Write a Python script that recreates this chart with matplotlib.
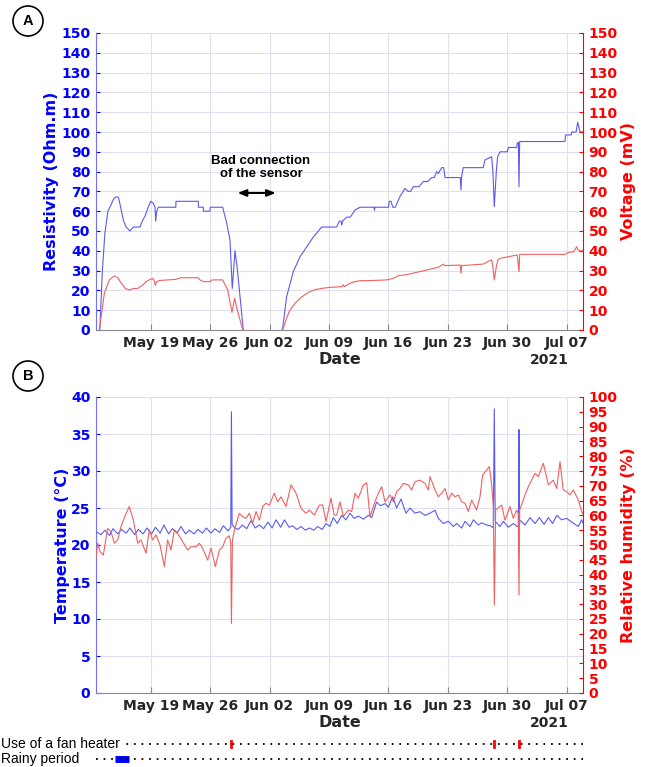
import datetime
import numpy as np
import matplotlib
matplotlib.use("Agg")
import matplotlib.pyplot as plt
import matplotlib.dates as mdates
from matplotlib.patches import Ellipse

# ---------------- data (days since 2021-05-12 00:00) ----------------
START = datetime.datetime(2021, 5, 12)

resistivity = [(1.0, 0), (1.3, 30), (1.6, 49), (1.95, 60), (2.3, 63), (2.6, 66), (2.9, 67.3), (3.2, 67),
               (3.5, 61), (3.8, 55), (4.1, 52), (4.55, 50), (4.94, 52), (5.73, 52), (6.0, 55), (6.32, 57.5),
               (6.7, 62), (7.0, 65), (7.3, 64), (7.5, 62), (7.58, 55), (7.7, 60), (7.9, 62), (9.95, 62),
               (9.97, 65), (12.6, 65), (12.62, 62), (13.19, 62), (13.21, 60), (13.98, 60), (14.0, 62),
               (15.47, 62), (15.94, 54), (16.33, 45.5), (16.6, 21), (16.92, 40), (17.19, 31), (17.9, 0),
               (20.0, np.nan),
               (22.45, 0), (22.54, 1), (23.0, 16.8), (23.79, 29.5), (24.58, 37), (25.37, 42), (26.15, 47),
               (27.13, 52), (28.9, 52), (29.2, 55), (29.4, 55), (29.5, 53), (29.6, 55), (30.08, 57), (30.5, 57),
               (31.06, 60.6), (31.65, 62), (33.3, 62), (33.35, 60.5), (33.4, 62), (34.98, 62), (35.1, 65),
               (35.3, 65), (35.5, 62), (35.8, 62), (36.3, 67), (36.94, 71.5), (37.3, 70), (37.6, 70),
               (37.92, 72.4), (38.6, 72.4), (39.1, 75), (39.6, 75), (40.1, 77), (40.4, 77), (40.67, 80),
               (40.9, 79), (41.0, 80), (41.27, 82), (41.5, 82), (41.66, 77), (43.45, 77), (43.54, 70.7),
               (43.6, 77), (43.8, 82), (46.16, 82), (46.37, 85.9), (47.15, 87.5), (47.3, 80), (47.46, 62.3),
               (47.7, 80), (47.85, 87.5), (48.14, 90), (49.0, 90), (49.12, 92.2), (50.1, 92.2), (50.17, 94.6),
               (50.3, 94.6), (50.37, 72.4), (50.45, 95.2), (55.79, 95.2), (55.85, 98.5), (56.5, 98.5),
               (56.6, 100), (57.1, 100), (57.28, 104.9), (57.56, 100), (57.9, 100)]

voltage = [(0.94, 0), (1.53, 18.5), (2.12, 25.3), (2.7, 27.3), (3.1, 26.5), (3.49, 23.9), (4.0, 21),
           (4.47, 20.2), (5.0, 21), (5.46, 21), (6.0, 22.5), (6.44, 24.4), (6.9, 25.5), (7.23, 26.1),
           (7.4, 25), (7.54, 22.6), (7.7, 24.4), (8.0, 25), (10.0, 25.6), (10.5, 26.4), (12.6, 26.4),
           (12.8, 25.3), (13.2, 24.4), (14.0, 24.4), (14.2, 25.3), (15.47, 25.3), (16.06, 20.2),
           (16.57, 8.9), (16.88, 16), (17.2, 10), (17.83, 0),
           (20.0, np.nan),
           (22.54, 0), (23.0, 6), (23.4, 10.1), (24.0, 13.5), (24.58, 16), (25.2, 18), (25.76, 19.4),
           (26.5, 20.5), (27.13, 21), (28.0, 21.5), (29.5, 21.9), (29.7, 22.8), (29.8, 21.9), (30.47, 23.6),
           (31.0, 24.4), (31.65, 24.9), (33.0, 25.0), (34.79, 25.3), (35.5, 26), (36.2, 27.5), (36.94, 27.8),
           (37.8, 28.6), (38.71, 29.5), (39.5, 30.3), (40.28, 31.1), (40.9, 31.7), (41.46, 33.3), (41.6, 32.5),
           (43.45, 32.8), (43.54, 28.6), (43.62, 32.5), (46.16, 33.3), (46.8, 34.8), (47.15, 35.4), (47.3, 32),
           (47.46, 25.3), (47.7, 32), (47.9, 35.5), (48.14, 36.2), (49.12, 37), (50.17, 37.9), (50.37, 29.5),
           (50.45, 38.2), (55.79, 38.2), (56.2, 39.2), (56.8, 39.5), (57.17, 42.1), (57.3, 40.5),
           (57.56, 40), (57.9, 40)]

temperature = [(0.55, 21.9), (0.8, 21.6), (1.15, 21.4), (1.6, 22.0), (2.15, 21.3), (2.55, 22.2), (3.1, 21.5),
               (3.55, 22.1), (4.1, 21.6), (4.55, 22.3), (5.1, 21.4), (5.55, 22.1), (6.1, 21.5), (6.55, 22.3),
               (7.1, 21.5), (7.55, 22.4), (8.1, 21.6), (8.55, 22.7), (9.1, 21.5), (9.55, 22.2), (10.1, 21.6),
               (10.55, 22.5), (11.1, 21.5), (11.55, 22.0), (12.1, 21.5), (12.55, 22.1), (13.1, 21.6),
               (13.55, 22.3), (14.1, 21.6), (14.55, 22.2), (15.1, 21.7), (15.55, 22.6), (16.1, 21.9),
               (16.42, 22.4), (16.5, 38.0), (16.58, 22.8), (16.9, 22.3), (17.3, 22.1), (17.8, 22.7),
               (18.3, 22.2), (18.8, 23.3), (19.3, 22.3), (19.8, 22.7), (20.3, 22.2), (20.8, 23.1), (21.3, 22.3),
               (21.75, 23.4), (22.3, 22.4), (22.75, 23.4), (23.3, 22.4), (23.7, 22.6), (24.2, 22.1), (24.7, 22.5),
               (25.2, 22.0), (25.7, 22.3), (26.2, 22.0), (26.65, 22.5), (27.2, 22.1), (27.65, 22.9), (28.1, 22.5),
               (28.5, 23.7), (28.97, 22.9), (29.48, 24.0), (29.99, 23.4), (30.47, 24.3), (30.94, 23.6),
               (31.45, 23.9), (32.04, 23.5), (32.63, 24.0), (33.02, 23.7), (33.6, 25.8), (34.08, 25.3),
               (34.59, 25.6), (34.98, 25.1), (35.49, 26.5), (35.96, 25.0), (36.47, 26.2), (37.06, 24.3),
               (37.53, 25.0), (38.12, 24.3), (38.71, 24.5), (39.3, 24.0), (39.89, 24.3), (40.48, 24.7),
               (40.87, 23.6), (41.46, 22.9), (42.05, 23.2), (42.64, 22.5), (43.03, 22.9), (43.62, 22.3),
               (44.01, 23.2), (44.6, 22.5), (45.0, 23.4), (45.58, 22.7), (45.97, 23.0), (46.56, 22.7),
               (47.0, 22.6), (47.35, 22.3), (47.46, 38.4), (47.57, 23.2), (48.13, 22.5), (48.53, 23.2),
               (49.11, 22.4), (49.7, 22.9), (50.17, 22.5), (50.32, 22.6), (50.37, 35.6), (50.43, 23.4),
               (51.08, 22.7), (51.67, 23.7), (52.26, 22.9), (52.77, 23.7), (53.32, 22.8), (53.83, 23.7),
               (54.34, 22.9), (54.81, 24.0), (55.4, 23.4), (55.99, 23.6), (56.57, 23.1), (57.36, 22.5),
               (57.75, 23.4), (57.9, 23.0)]

humidity = [(0.55, 45.5), (0.75, 50.6), (1.02, 47.8), (1.41, 46.6), (1.92, 55.6), (2.32, 54.5), (2.71, 50.6),
            (3.1, 51.7), (3.49, 56.2), (4.0, 60.1), (4.48, 63.0), (4.95, 58.4), (5.46, 50.6), (5.85, 51.7),
            (6.44, 47.2), (6.83, 55.1), (7.22, 51.7), (7.62, 53.4), (8.09, 50.0), (8.6, 42.7), (8.99, 51.7),
            (9.38, 48.3), (9.78, 55.1), (10.17, 54.0), (10.76, 51.1), (11.35, 48.3), (11.74, 49.4),
            (12.33, 49.4), (12.72, 50.6), (13.11, 48.9), (13.7, 44.9), (14.1, 48.9), (14.61, 42.7),
            (15.08, 48.3), (15.47, 49.4), (15.86, 52.3), (16.25, 53.1), (16.42, 50.6), (16.5, 23.5),
            (16.62, 51.7), (16.96, 56.2), (17.43, 60.7), (17.82, 59.6), (18.22, 59.0), (18.61, 60.7),
            (19.0, 57.3), (19.4, 61.3), (19.79, 58.4), (20.18, 63.0), (20.57, 64.1), (20.97, 63.5),
            (21.55, 67.5), (21.95, 64.6), (22.34, 66.3), (22.93, 63.0), (23.52, 70.3), (24.11, 67.5),
            (24.7, 62.4), (25.28, 60.7), (25.68, 61.8), (26.27, 60.1), (26.86, 63.5), (27.25, 63.5),
            (27.64, 57.9), (28.23, 65.8), (28.6, 60.1), (28.9, 60.1), (29.29, 64.6), (29.68, 59.6),
            (30.27, 61.8), (30.66, 61.3), (31.05, 67.5), (31.45, 65.8), (32.04, 70.3), (32.43, 71.0),
            (32.82, 59.6), (33.41, 64.6), (33.8, 67.5), (34.2, 69.7), (34.59, 64.6), (35.18, 66.9),
            (35.57, 64.6), (35.96, 68.0), (36.35, 69.1), (36.75, 70.8), (37.34, 70.3), (37.73, 68.6),
            (38.12, 71.4), (38.71, 71.9), (39.3, 70.8), (39.69, 68.6), (39.89, 73.1), (40.48, 68.6),
            (40.87, 66.3), (41.26, 67.5), (41.66, 69.1), (42.05, 65.2), (42.44, 67.5), (42.83, 66.3),
            (43.23, 66.9), (43.62, 64.6), (44.01, 64.1), (44.4, 61.3), (44.8, 65.2), (45.38, 61.8),
            (45.78, 66.3), (46.09, 73.6), (46.56, 75.3), (46.88, 76.5), (47.15, 70.3), (47.35, 63.0),
            (47.47, 29.7), (47.62, 61.8), (48.33, 63.5), (48.72, 58.4), (49.31, 63.0), (49.7, 59.0),
            (50.1, 61.8), (50.28, 60.7), (50.37, 33.1), (50.45, 61.8), (51.08, 66.9), (51.47, 69.7),
            (51.86, 71.9), (52.26, 74.2), (52.65, 73.1), (53.24, 77.6), (53.83, 70.3), (54.41, 71.9),
            (54.81, 69.1), (55.2, 78.1), (55.59, 68.6), (55.99, 68.0), (56.38, 66.9), (56.77, 68.6),
            (57.36, 65.2), (57.75, 61.3), (57.9, 60.5)]

fan_heater_days = [16.42, 47.47, 50.37]
rainy_period = (2.79, 4.44)

tick_dates = ["2021-05-19", "2021-05-26", "2021-06-02", "2021-06-09", "2021-06-16", "2021-06-23",
              "2021-06-30", "2021-07-07"]
tick_labels = ["May 19", "May 26", "Jun 02", "Jun 09", "Jun 16", "Jun 23", "Jun 30", "Jul 07"]
x_range = (0.55, 57.91)

# ---------------- helpers ----------------
base_num = mdates.date2num(START)


def to_num(days):
    return [base_num + d for d in days]


def split(pairs):
    d, v = zip(*pairs)
    return to_num(d), list(v)


tick_nums = [mdates.date2num(datetime.datetime.strptime(s, "%Y-%m-%d")) for s in tick_dates]
xlim = (base_num + x_range[0], base_num + x_range[1])

BLUE = "#0000ff"
RED = "#ff0000"
LBLUE = "#5a5af0"
LRED = "#f06060"
GRID = "#dfdff2"
TICKFONT = dict(family="DejaVu Sans", weight="bold", size=10)

W, H = 649, 767
fig = plt.figure(figsize=(W / 100, H / 100), dpi=100)


def fx(px):
    return px / W


def fy(py):
    return 1 - py / H


def style_axes(ax, axr, left_label, right_label, left_ticks, right_ticks, lab_left_x, lab_right_x):
    ax.set_xlim(*xlim)
    ax.set_xticks(tick_nums)
    ax.set_xticklabels(tick_labels, fontdict=TICKFONT, color="#262626")
    ax.grid(True, color=GRID, lw=0.8)
    ax.set_axisbelow(True)
    for a in (ax, axr):
        a.spines["top"].set_visible(False)
    ax.spines["right"].set_visible(False)
    axr.spines["left"].set_visible(False)
    axr.spines["bottom"].set_visible(False)
    ax.spines["left"].set_color("#7070ff")
    axr.spines["right"].set_color(RED)
    ax.spines["bottom"].set_color("#8a8a8a")
    ax.tick_params(axis="x", direction="in", length=4, color="#8a8a8a", pad=4)
    ax.tick_params(axis="y", direction="in", length=3, color=BLUE, labelcolor=BLUE, pad=4)
    axr.tick_params(axis="y", direction="in", length=3, color=RED, labelcolor=RED, pad=4)
    ax.set_yticks(left_ticks)
    ax.set_yticklabels([str(t) for t in left_ticks], fontdict=TICKFONT)
    axr.set_yticks(right_ticks)
    axr.set_yticklabels([str(t) for t in right_ticks], fontdict=TICKFONT)
    ax.set_ylabel(left_label, color=BLUE, fontsize=11.5, fontweight="bold")
    axr.set_ylabel(right_label, color=RED, fontsize=11.5, fontweight="bold")
    ax.yaxis.set_label_coords(lab_left_x, 0.5)
    axr.yaxis.set_label_coords(lab_right_x, 0.5)
    ax.annotate("Date", xy=(0.5, 0), xycoords="axes fraction", xytext=(0, -21.5),
                textcoords="offset points", ha="center", va="center", fontsize=11.5,
                fontweight="bold", color="#262626")
    ax.annotate("2021", xy=(0.93, 0), xycoords="axes fraction", xytext=(0, -21.5),
                textcoords="offset points", ha="center", va="center", fontsize=10,
                fontweight="bold", color="#262626")


axw = (583 - 96) / W
# ---------------- panel A ----------------
ax1 = fig.add_axes([fx(96), fy(330), axw, (330 - 33) / H])
ax1r = ax1.twinx()
rd, rv = split(resistivity)
vd, vv = split(voltage)
ax1.plot(rd, rv, color=LBLUE, lw=0.8)
ax1r.plot(vd, vv, color=LRED, lw=0.8)
ax1.set_ylim(0, 150)
ax1r.set_ylim(0, 150)
style_axes(ax1, ax1r, "Resistivity (Ohm.m)", "Voltage (mV)", list(range(0, 151, 10)),
           list(range(0, 151, 10)), (58.5 - 96) / 487, (621.5 - 96) / 487)
ax1r.set_xlim(*xlim)

ax1.text(base_num + 19.98, 82, "Bad connection\nof the sensor", ha="center", va="center",
         fontsize=9.5, fontweight="bold", family="Liberation Sans", linespacing=1.15)
ax1.annotate("", xy=(base_num + 16.9, 69.2), xytext=(base_num + 22.05, 69.2),
             arrowprops=dict(arrowstyle="<|-|>,head_length=0.5,head_width=0.2", color="black", lw=1.5))

# ---------------- panel B ----------------
ax2 = fig.add_axes([fx(96), fy(693), axw, (693 - 397) / H])
ax2r = ax2.twinx()
td, tv = split(temperature)
hd, hv = split(humidity)
ax2.plot(td, tv, color=LBLUE, lw=0.8)
ax2r.plot(hd, hv, color=LRED, lw=0.8)
ax2.set_ylim(0, 40)
ax2r.set_ylim(0, 100)
style_axes(ax2, ax2r, "Temperature (°C)", "Relative humidity (%)", list(range(0, 41, 5)),
           list(range(0, 101, 5)), (70 - 96) / 487, (621.5 - 96) / 487)
ax2r.set_xlim(*xlim)

# ---------------- circled panel letters ----------------
for letter, cy in (("A", 21), ("B", 376)):
    fig.patches.append(Ellipse((fx(28), fy(cy)), 30 / W, 30 / H, transform=fig.transFigure,
                               fill=False, ec="black", lw=1.2))
    fig.text(fx(28), fy(cy), letter, ha="center", va="center", fontsize=10.5, fontweight="bold",
             family="Liberation Sans")

# ---------------- event rows ----------------
ax3 = fig.add_axes([fx(96), 0, axw, 30 / H])
ax3.set_xlim(*xlim)
ax3.set_ylim(0, 30)
ax3.axis("off")
rows = {"Use of a fan heater": 23, "Rainy period": 8}
ax3.plot([rainy_period[0] + base_num, rainy_period[1] + base_num], [8, 8], color=BLUE, lw=5,
         solid_capstyle="butt", zorder=2)
for dday in fan_heater_days:
    ax3.plot([base_num + dday, base_num + dday], [20, 26], color=RED, lw=2, zorder=2)
for label, yy in rows.items():
    ax3.plot(xlim, [yy, yy], color="black", lw=1.3, linestyle=(0, (1, 3.2)), zorder=3)
    fig.text(0.001, yy / H, label, ha="left", va="center", fontsize=10, family="Liberation Sans",
             bbox=dict(facecolor="white", edgecolor="none", pad=2), zorder=10)

fig.savefig("out.png", dpi=100)
